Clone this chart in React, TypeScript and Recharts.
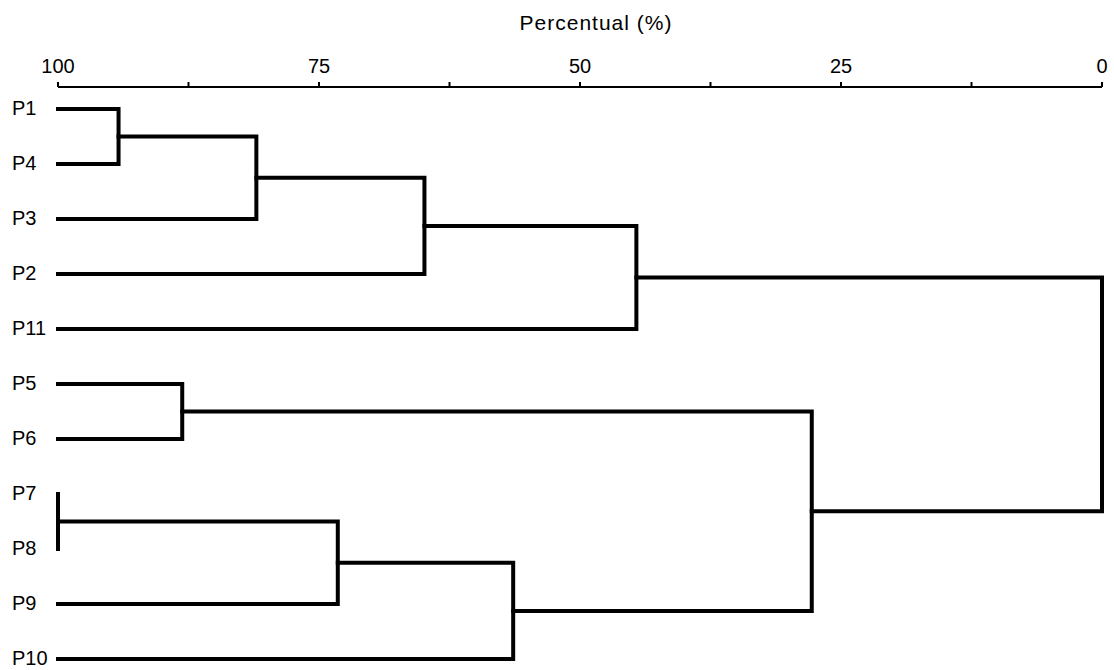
import { ComposedChart, Scatter, XAxis, YAxis } from "recharts";

// leaf order, top to bottom
const leaves = ["P1", "P4", "P3", "P2", "P11", "P5", "P6", "P7", "P8", "P9", "P10"];

// merges m1..m10: left child, right child, similarity level (%)
const mergeA = ["P1", "m1", "m2", "m3", "P5", "P7", "m6", "m7", "m5", "m4"];
const mergeB = ["P4", "P3", "P2", "P11", "P6", "P8", "P9", "P10", "m8", "m9"];
const mergeLevel = [94.2, 81.0, 64.9, 44.6, 88.1, 100, 73.2, 56.4, 27.8, 0];

const xTicks = [100, 87.5, 75, 62.5, 50, 37.5, 25, 12.5, 0];
const yTicks = leaves.map((_, i) => i);

type Pt = { x: number; y: number };

function buildLinks() {
  const nodes: Record<string, Pt> = {};
  leaves.forEach((name, i) => (nodes[name] = { x: 100, y: i }));
  const links: Pt[][] = [];
  mergeLevel.forEach((lvl, i) => {
    const a = nodes[mergeA[i]];
    const b = nodes[mergeB[i]];
    links.push([
      { x: a.x, y: a.y },
      { x: lvl, y: a.y },
      { x: lvl, y: b.y },
      { x: b.x, y: b.y },
    ]);
    nodes["m" + (i + 1)] = { x: lvl, y: (a.y + b.y) / 2 };
  });
  return links;
}

const links = buildLinks();

const LeafTick = (props: any) => {
  const { y, payload } = props;
  return (
    <text x={12} y={y} dy="0.3em" textAnchor="start" fontSize={20} fill="#000">
      {leaves[payload.value]}
    </text>
  );
};

export default function App() {
  return (
    <div style={{ position: "absolute", left: 0, top: 0, background: "#fff", fontFamily: "Arial, 'Liberation Sans', sans-serif" }}>
      <ComposedChart width={1114} height={670} margin={{ top: 0, right: 12, left: 12, bottom: 0 }}>
        <XAxis
          dataKey="x"
          type="number"
          orientation="top"
          domain={[0, 100]}
          reversed
          ticks={xTicks}
          height={87}
          tickSize={5}
          tickMargin={9}
          tickFormatter={(v: number) => (v % 25 === 0 ? String(v) : "")}
          tick={{ fontSize: 20, fill: "#000" }}
          axisLine={{ stroke: "#000", strokeWidth: 2 }}
          tickLine={{ stroke: "#000", strokeWidth: 2 }}
        />
        <YAxis
          dataKey="y"
          type="number"
          domain={[-0.4, 10.2]}
          reversed
          ticks={yTicks}
          width={46}
          axisLine={false}
          tickLine={false}
          tick={<LeafTick />}
        />
        {links.map((d, i) => (
          <Scatter
            key={i}
            data={d}
            line={{ stroke: "#000", strokeWidth: 4, strokeLinejoin: "miter", strokeLinecap: "square" }}
            shape={() => <g />}
            isAnimationActive={false}
          />
        ))}
        <text x={596} y={30} textAnchor="middle" fontSize={21} letterSpacing={1} fill="#000">
          Percentual (%)
        </text>
      </ComposedChart>
    </div>
  );
}
